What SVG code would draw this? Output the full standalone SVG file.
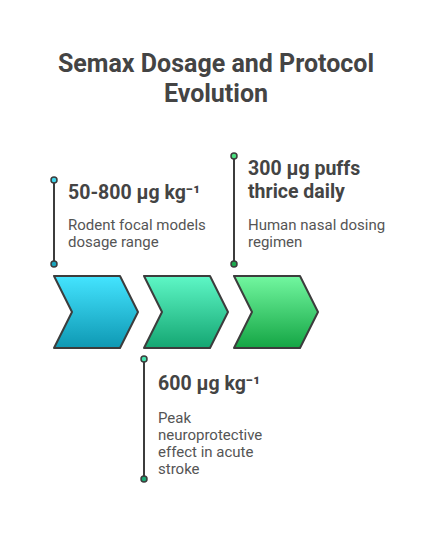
<svg xmlns="http://www.w3.org/2000/svg" width="438" height="552" viewBox="0 0 438 552">
<defs>
<linearGradient id="g1" x1="0" y1="0" x2="0" y2="1"><stop offset="0" stop-color="#44E4FF"/><stop offset="1" stop-color="#0E98B3"/></linearGradient>
<linearGradient id="g2" x1="0" y1="0" x2="0" y2="1"><stop offset="0" stop-color="#5EF7C6"/><stop offset="1" stop-color="#14A672"/></linearGradient>
<linearGradient id="g3" x1="0" y1="0" x2="0" y2="1"><stop offset="0" stop-color="#72F7A0"/><stop offset="1" stop-color="#14A544"/></linearGradient>
<style>
.chev{stroke:#3c3c3c;stroke-width:2;stroke-linejoin:round}
.ln{stroke:#3c3c3c;stroke-width:2}
.dot{stroke:#3c3c3c;stroke-width:1.5}
.title{font-family:Roboto,"Liberation Sans",sans-serif;font-weight:bold;font-size:25px;fill:#444;text-anchor:middle}
.head{font-family:Roboto,"Liberation Sans",sans-serif;font-weight:bold;font-size:19.5px;fill:#444}
.body{font-family:Roboto,"Liberation Sans",sans-serif;font-size:15px;fill:#555}
</style>
</defs>
<rect width="438" height="552" fill="#fff"/>
<g id="title">
<text class="title" x="216" y="72">Semax Dosage and Protocol</text>
<text class="title" x="216" y="102">Evolution</text>
</g>
<g id="chevron1"><path class="chev" fill="url(#g1)" d="M54 276 H120 L138 312 L120 348 H54 L72 312 Z"/></g>
<g id="chevron2"><path class="chev" fill="url(#g2)" d="M144 276 H210 L228 312 L210 348 H144 L162 312 Z"/></g>
<g id="chevron3"><path class="chev" fill="url(#g3)" d="M234 276 H300 L318 312 L300 348 H234 L252 312 Z"/></g>
<g id="connectors">
<line class="ln" x1="54" y1="180" x2="54" y2="264"/>
<circle class="dot" cx="54" cy="180" r="3" fill="#40D6EC"/>
<circle class="dot" cx="54" cy="264" r="3" fill="#1AA5BE"/>
<line class="ln" x1="234" y1="156" x2="234" y2="264"/>
<circle class="dot" cx="234" cy="156" r="3" fill="#4BE07F"/>
<circle class="dot" cx="234" cy="264" r="3" fill="#1BAA4D"/>
<line class="ln" x1="144" y1="359" x2="144" y2="479"/>
<circle class="dot" cx="144" cy="359" r="3" fill="#45E3AE"/>
<circle class="dot" cx="144" cy="479" r="3" fill="#1AA873"/>
</g>
<g id="label1">
<text class="head" x="68" y="199">50-800 μg kg⁻¹</text>
<text class="body" x="68" y="230">Rodent focal models</text>
<text class="body" x="68" y="247">dosage range</text>
</g>
<g id="label3">
<text class="head" x="248" y="175">300 μg puffs</text>
<text class="head" x="248" y="198">thrice daily</text>
<text class="body" x="248" y="230">Human nasal dosing</text>
<text class="body" x="248" y="247">regimen</text>
</g>
<g id="label2">
<text class="head" x="158" y="390">600 μg kg⁻¹</text>
<text class="body" x="158" y="423">Peak</text>
<text class="body" x="158" y="440">neuroprotective</text>
<text class="body" x="158" y="457">effect in acute</text>
<text class="body" x="158" y="474">stroke</text>
</g>
</svg>
